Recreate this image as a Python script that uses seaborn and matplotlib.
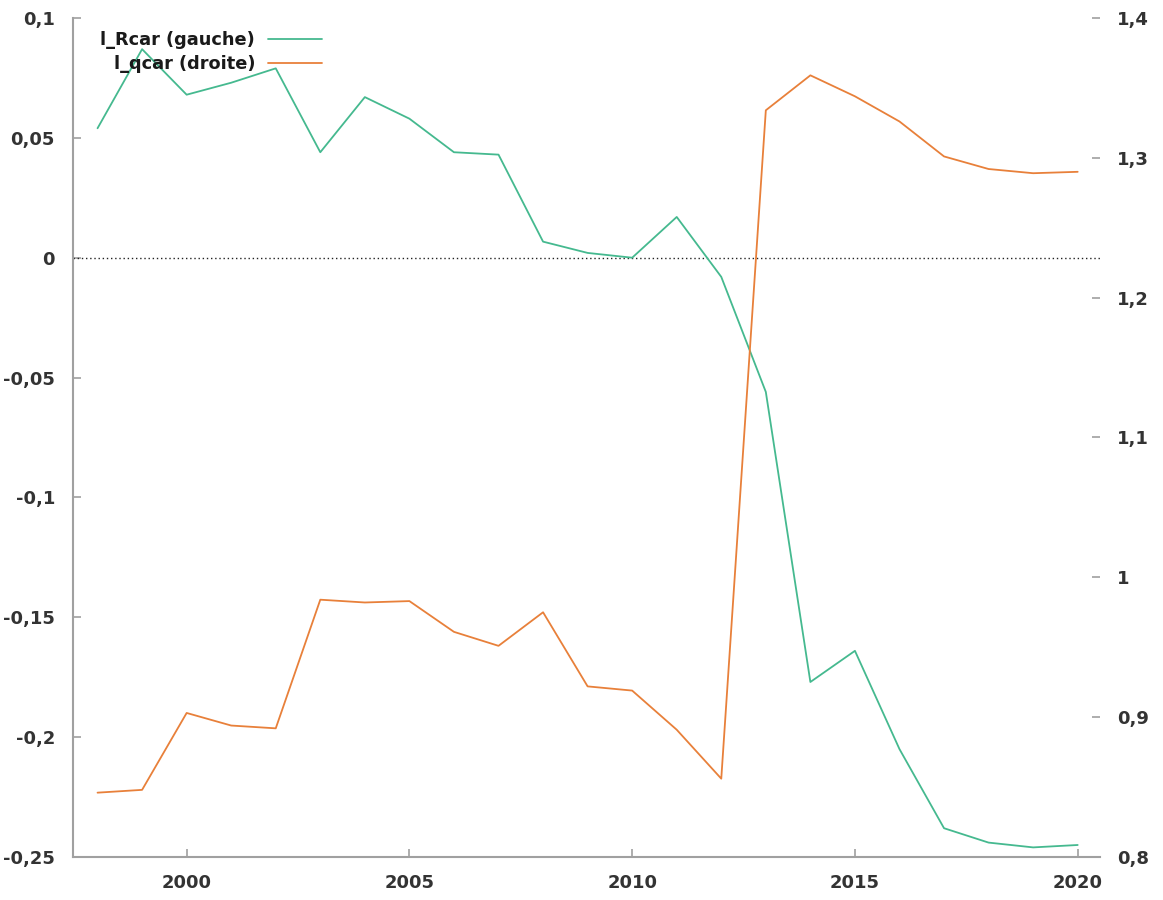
import matplotlib
matplotlib.use("Agg")
import matplotlib.pyplot as plt
import seaborn as sns
import pandas as pd
from matplotlib.ticker import FuncFormatter, FixedLocator

years = list(range(1998, 2021))
l_rcar = [0.054, 0.087, 0.068, 0.073, 0.079, 0.044, 0.067, 0.058, 0.044, 0.043,
          0.0067, 0.002, 0.0, 0.017, -0.008, -0.056, -0.177, -0.164, -0.205,
          -0.238, -0.244, -0.246, -0.245]
l_qcar = [0.846, 0.848, 0.903, 0.894, 0.892, 0.984, 0.982, 0.983, 0.961, 0.951,
          0.975, 0.922, 0.919, 0.891, 0.856, 1.334, 1.359, 1.344, 1.326, 1.301,
          1.292, 1.289, 1.290]
left_ticks = [0.1, 0.05, 0, -0.05, -0.1, -0.15, -0.2, -0.25]
right_ticks = [1.4, 1.3, 1.2, 1.1, 1.0, 0.9, 0.8]
x_ticks = [2000, 2005, 2010, 2015, 2020]

df = pd.DataFrame({"annee": years, "l_Rcar": l_rcar, "l_qcar": l_qcar})

sns.set_theme(style="white")
plt.rcParams["font.family"] = ["DejaVu Sans"]

green = "#45b98f"
orange = "#e8803a"
axis_grey = "#a0a0a0"
text_col = "#333333"

fig = plt.figure(figsize=(11.63, 9.0), dpi=100)
ax = fig.add_axes([0.0628, 0.0478, 0.8830, 0.9322])
ax2 = ax.twinx()

sns.lineplot(data=df, x="annee", y="l_Rcar", ax=ax, color=green, lw=1.3,
             label="l_Rcar (gauche)", legend=False)
sns.lineplot(data=df, x="annee", y="l_qcar", ax=ax2, color=orange, lw=1.3,
             label="l_qcar (droite)", legend=False)

ax.axhline(0, color="#222222", lw=1.0, ls=(0, (1, 2)), zorder=1)

ax.set_xlim(1997.45, 2020.5)
ax.set_ylim(-0.25, 0.1)
ax2.set_ylim(0.8, 1.4)

fmt = FuncFormatter(lambda v, p: f"{v:g}".replace(".", ","))
ax.yaxis.set_major_locator(FixedLocator(left_ticks))
ax.yaxis.set_major_formatter(fmt)
ax2.yaxis.set_major_locator(FixedLocator(right_ticks))
ax2.yaxis.set_major_formatter(fmt)
ax.xaxis.set_major_locator(FixedLocator(x_ticks))
ax.xaxis.set_major_formatter(FuncFormatter(lambda v, p: f"{int(v)}"))

for a in (ax, ax2):
    a.set_xlabel("")
    a.set_ylabel("")
    for s in a.spines.values():
        s.set_visible(False)

ax.spines["left"].set_visible(True)
ax.spines["bottom"].set_visible(True)
ax.spines["left"].set_color(axis_grey)
ax.spines["bottom"].set_color(axis_grey)
ax.spines["left"].set_linewidth(1.5)
ax.spines["bottom"].set_linewidth(1.5)

tick_font = dict(labelsize=13, labelcolor=text_col)
ax.tick_params(axis="y", direction="in", length=6, width=1.2, color=axis_grey,
               left=True, pad=13, **tick_font)
ax.tick_params(axis="x", direction="in", length=6, width=1.2, color=axis_grey,
               bottom=True, pad=12, **tick_font)
ax2.tick_params(axis="y", direction="in", length=6, width=1.2, color=axis_grey,
                right=True, pad=12, **tick_font)
for lab in ax.get_xticklabels() + ax.get_yticklabels() + ax2.get_yticklabels():
    lab.set_fontweight("bold")

handles = ax.get_lines()[:1] + ax2.get_lines()[:1]
leg = ax.legend(handles, ["l_Rcar (gauche)", "l_qcar (droite)"],
                loc="upper left", bbox_to_anchor=(0.011, 1.003), frameon=False,
                markerfirst=False, handlelength=3.0, handletextpad=0.75,
                labelspacing=0.3, prop={"size": 12.8, "weight": "bold"})
for t in leg.get_texts():
    t.set_color("#1a1a1a")

fig.savefig("out.png", dpi=100)
